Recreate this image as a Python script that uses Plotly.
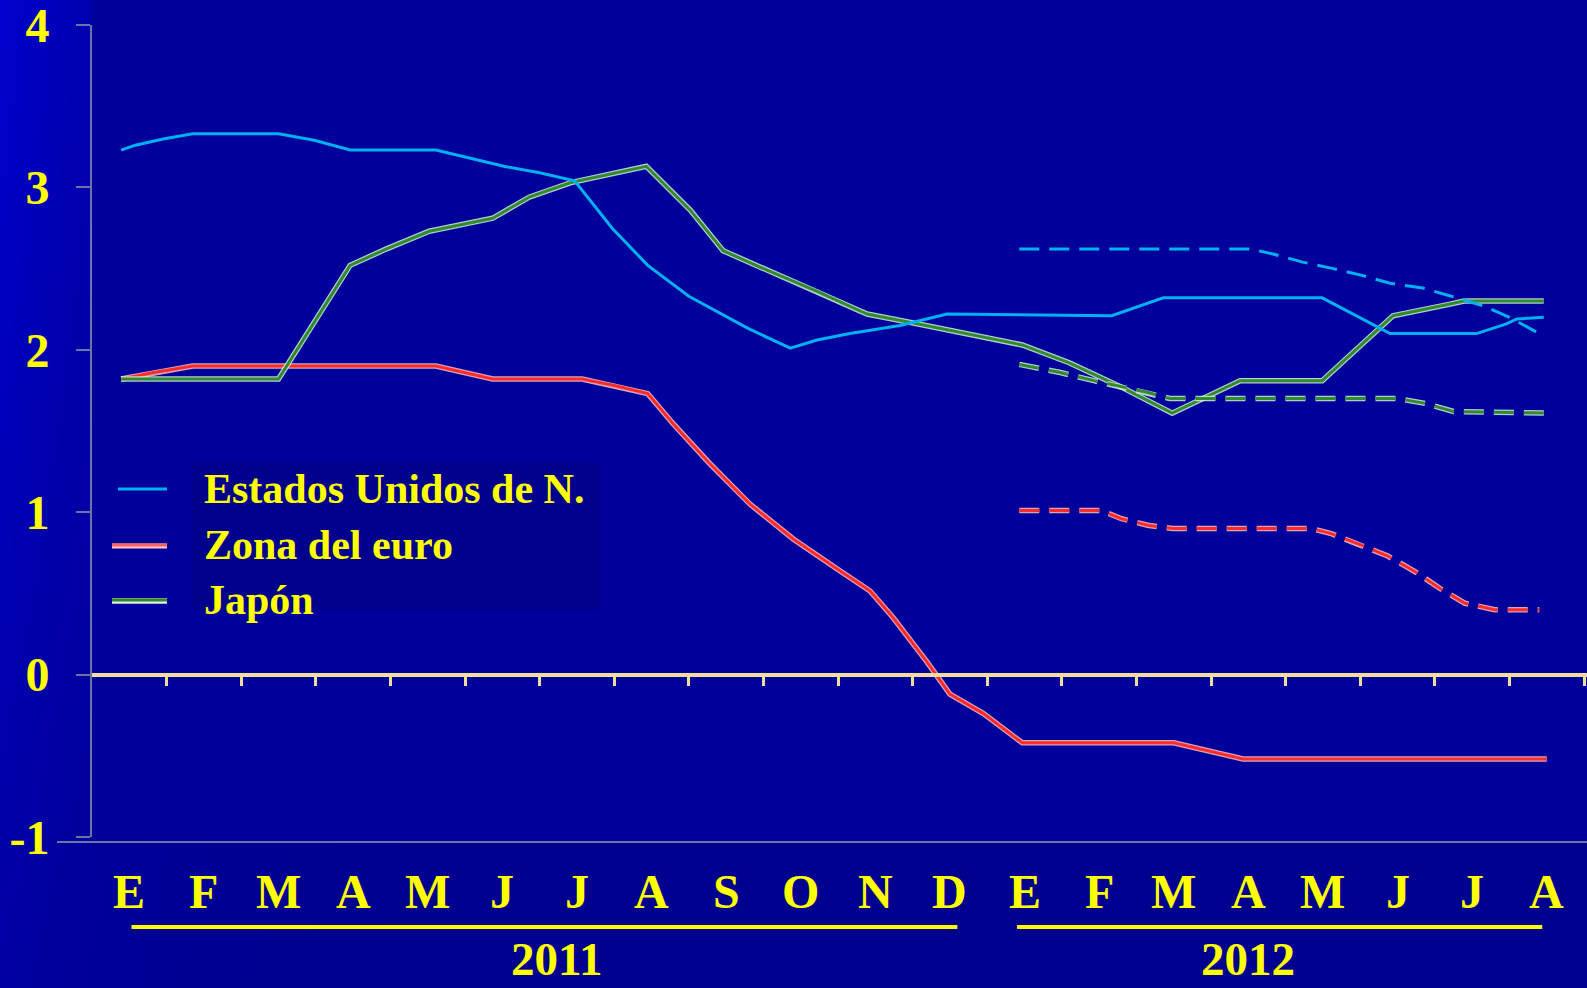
import base64
import math
import struct
import zlib

import plotly.graph_objects as go

# ---------------------------------------------------------------- data
months = ["E", "F", "M", "A", "M", "J", "J", "A", "S", "O", "N", "D",
          "E", "F", "M", "A", "M", "J", "J", "A"]
years = ["2011", "2012"]
y_ticks = [-1, 0, 1, 2, 3, 4]

# x is measured in months from January 2011 (0 = E 2011, 12 = E 2012)
us_x = [-0.11, 0.08, 0.47, 0.85, 2.0, 2.48, 2.96, 4.11, 4.39, 5.02, 5.5, 5.97,
        6.47, 6.95, 7.5, 8.3, 8.86, 9.22, 9.66, 10.33, 10.96, 13.17, 13.86,
        15.99, 16.9, 18.06, 18.46, 18.6, 18.96]
us_y = [3.23, 3.26, 3.30, 3.33, 3.33, 3.29, 3.23, 3.23, 3.20, 3.13, 3.09, 3.04,
        2.75, 2.52, 2.33, 2.13, 2.01, 2.06, 2.10, 2.15, 2.22, 2.21, 2.32,
        2.32, 2.10, 2.10, 2.16, 2.19, 2.20]

us_fc_x = [11.93, 15.04, 15.33, 15.73, 16.14, 16.51, 16.9, 17.34, 17.72,
           18.15, 18.5, 18.9]
us_fc_y = [2.62, 2.62, 2.59, 2.54, 2.50, 2.46, 2.41, 2.38, 2.33, 2.27, 2.20,
           2.10]

eu_x = [-0.11, 0.33, 0.85, 4.11, 4.87, 6.07, 6.5, 6.95, 7.29, 7.78, 8.32, 8.9,
        9.49, 9.93, 10.24, 10.69, 11.0, 11.45, 11.97, 14.0, 14.93, 19.0]
eu_y = [1.82, 1.86, 1.90, 1.90, 1.82, 1.82, 1.78, 1.73, 1.545, 1.30, 1.05,
        0.835, 0.65, 0.515, 0.35, 0.08, -0.12, -0.24, -0.42, -0.42, -0.52,
        -0.52]

eu_fc_x = [11.93, 13.03, 13.3, 13.65, 13.98, 15.84, 16.1, 16.5, 16.87, 17.25,
           17.57, 17.9, 18.3, 18.9]
eu_fc_y = [1.01, 1.01, 0.96, 0.92, 0.90, 0.90, 0.87, 0.80, 0.73, 0.63, 0.53,
           0.44, 0.40, 0.40]

jp_x = [-0.11, 2.0, 2.96, 3.44, 4.02, 4.87, 5.36, 5.92, 6.93, 7.52, 7.96, 8.55,
        9.22, 9.89, 10.56, 11.2, 11.97, 12.6, 13.3, 13.98, 14.89, 15.99, 16.94,
        17.69, 17.89, 18.96]
jp_y = [1.82, 1.82, 2.52, 2.62, 2.73, 2.81, 2.94, 3.03, 3.13, 2.86, 2.61, 2.49,
        2.36, 2.22, 2.16, 2.10, 2.03, 1.92, 1.77, 1.61, 1.81, 1.81, 2.21, 2.28,
        2.30, 2.30]

jp_fc_x = [11.93, 12.48, 12.93, 13.23, 13.63, 13.95, 17.0, 17.37, 17.75, 19.0]
jp_fc_y = [1.91, 1.86, 1.81, 1.78, 1.74, 1.70, 1.70, 1.67, 1.62, 1.61]

series_names = ["Estados Unidos de N.", "Zona del euro", "Japón"]

# ---------------------------------------------------------------- layout geometry
W, H = 1587, 988
ML, MR, MT, MB = 92, 0, 25, 151
PW, PH = W - ML - MR, H - MT - MB
X_RANGE = [-0.5, 19.54]
Y_RANGE = [-1, 4]


def px_x(X):
    return (X - ML) / PW


def px_y(Y):
    return (H - MB - Y) / PH


YELLOW = "#FFFF00"
SERIF = "Liberation Serif, Times New Roman, serif"
BLUE = "#00B0F0"
RED = "#FF2B2B"
RED_HALO = "rgba(255,190,190,0.85)"
GREEN = "#2E8C2E"
GREEN_HALO = "rgba(215,235,215,0.85)"
PLOT_BG = "#00009B"
AXIS_GREY = "#6E72A8"
CREAM = "#F2DD9E"
DASH = "20px,10px"


# ---------------------------------------------------------------- slide background
def gradient_png(w, h):
    rows = []
    for j in range(h):
        Y = (j + 0.5) * H / h
        row = bytearray([0])
        for i in range(w):
            X = (i + 0.5) * W / w
            b = 142 + (66 - 45 * Y / H) * math.exp(-X / 140)
            row += bytes([0, 0, max(0, min(255, int(round(b))))])
        rows.append(bytes(row))
    raw = b"".join(rows)

    def chunk(tag, data):
        body = tag + data
        return (struct.pack(">I", len(data)) + body
                + struct.pack(">I", zlib.crc32(body) & 0xFFFFFFFF))

    png = (b"\x89PNG\r\n\x1a\n"
           + chunk(b"IHDR", struct.pack(">IIBBBBB", w, h, 8, 2, 0, 0, 0))
           + chunk(b"IDAT", zlib.compress(raw, 9))
           + chunk(b"IEND", b""))
    return "data:image/png;base64," + base64.b64encode(png).decode()


fig = go.Figure()


def add_line(x, y, color, width, name, dash="solid", halo=None):
    if halo:
        fig.add_trace(go.Scatter(
            x=x, y=y, mode="lines", name=name, showlegend=False,
            hoverinfo="skip",
            line=dict(color=halo, width=width + 2.5, dash=dash)))
    fig.add_trace(go.Scatter(
        x=x, y=y, mode="lines", name=name, showlegend=False,
        line=dict(color=color, width=width, dash=dash)))


add_line(eu_x, eu_y, RED, 3, series_names[1], halo=RED_HALO)
add_line(eu_fc_x, eu_fc_y, RED, 3, series_names[1], dash=DASH, halo=RED_HALO)
add_line(jp_x, jp_y, GREEN, 3, series_names[2], halo=GREEN_HALO)
add_line(jp_fc_x, jp_fc_y, GREEN, 3, series_names[2], dash=DASH, halo=GREEN_HALO)
add_line(us_x, us_y, BLUE, 3, series_names[0])
add_line(us_fc_x, us_fc_y, BLUE, 3, series_names[0], dash=DASH)

shapes = [
    # plot panel
    dict(type="rect", xref="paper", yref="paper", layer="below",
         x0=0, x1=1, y0=px_y(842), y1=px_y(0),
         fillcolor=PLOT_BG, line=dict(width=0)),
    # legend panel
    dict(type="rect", xref="paper", yref="paper", layer="below",
         x0=px_x(192), x1=px_x(600), y0=px_y(610), y1=px_y(463),
         fillcolor="#00008C", line=dict(width=0)),
    # bottom rule
    dict(type="line", xref="paper", yref="paper",
         x0=px_x(57), x1=1, y0=px_y(842), y1=px_y(842),
         line=dict(color=AXIS_GREY, width=2)),
    # year underlines
    dict(type="line", xref="x", yref="paper",
         x0=0.03, x1=11.1, y0=px_y(927), y1=px_y(927),
         line=dict(color=YELLOW, width=4)),
    dict(type="line", xref="x", yref="paper",
         x0=11.9, x1=18.94, y0=px_y(927), y1=px_y(927),
         line=dict(color=YELLOW, width=4)),
]

# legend samples and labels
legend_rows = [
    (series_names[0], 118, 489, [(BLUE, 3)]),
    (series_names[1], 112, 545, [("#FFC8C8", 5), ("#FF6060", 3)]),
    (series_names[2], 112, 600, [("#E0EEE0", 5.5), (GREEN, 3)]),
]
annotations = []
for label, x_start, yc, strokes in legend_rows:
    for color, width in strokes:
        shapes.append(dict(type="line", xref="paper", yref="paper",
                           x0=px_x(x_start), x1=px_x(167),
                           y0=px_y(yc + (1 if width > 3 else 0)),
                           y1=px_y(yc + (1 if width > 3 else 0)),
                           line=dict(color=color, width=width)))
    annotations.append(dict(
        text=label, xref="paper", yref="paper", x=px_x(202), y=px_y(yc),
        xanchor="left", yanchor="middle", showarrow=False,
        font=dict(family=SERIF, size=42, color=YELLOW, weight="bold")))

for i, m in enumerate(months):
    annotations.append(dict(
        text=m, xref="x", yref="paper", x=i, y=px_y(891),
        xanchor="center", yanchor="middle", showarrow=False,
        font=dict(family=SERIF, size=48, color=YELLOW, weight="bold")))

for yr, xc in zip(years, [5.73, 15.0]):
    annotations.append(dict(
        text=yr, xref="x", yref="paper", x=xc, y=px_y(H - 1),
        xanchor="center", yanchor="bottom", showarrow=False,
        font=dict(family=SERIF, size=47, color=YELLOW, weight="bold")))

fig.update_layout(
    width=W, height=H,
    margin=dict(l=ML, r=MR, t=MT, b=MB, pad=0),
    paper_bgcolor=PLOT_BG,
    plot_bgcolor="rgba(0,0,0,0)",
    showlegend=False,
    images=[dict(source=gradient_png(160, 100), xref="paper", yref="paper",
                 x=px_x(0), y=px_y(0), sizex=W / PW, sizey=H / PH,
                 xanchor="left", yanchor="top", sizing="stretch",
                 layer="below")],
    shapes=shapes,
    annotations=annotations,
    xaxis=dict(
        range=X_RANGE, anchor="free",
        position=(0 - Y_RANGE[0]) / (Y_RANGE[1] - Y_RANGE[0]),
        showline=True, linecolor=CREAM, linewidth=4,
        ticks="outside", ticklen=9, tickwidth=3, tickcolor=CREAM,
        tickvals=[i + 0.5 for i in range(len(months))],
        showticklabels=False, showgrid=False, zeroline=False,
        fixedrange=True),
    yaxis=dict(
        range=Y_RANGE, showline=True, linecolor=AXIS_GREY, linewidth=2,
        ticks="outside", ticklen=14, tickwidth=2, tickcolor=AXIS_GREY,
        tickvals=y_ticks, ticktext=[str(v) for v in y_ticks],
        tickfont=dict(family=SERIF, size=48, color=YELLOW, weight="bold"),
        ticklabelstandoff=17, ticklabeloverflow="allow",
        showgrid=False, zeroline=False, fixedrange=True),
)

fig.write_html("out.html", config={"displayModeBar": False})
